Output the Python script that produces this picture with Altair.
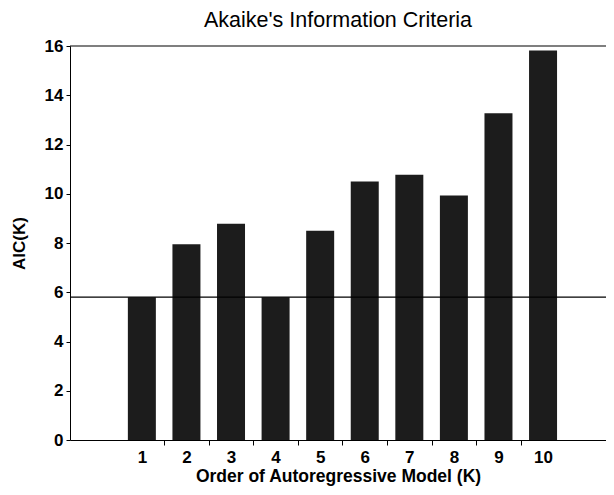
import altair as alt
import pandas as pd

orders = [1, 2, 3, 4, 5, 6, 7, 8, 9, 10]
aic = [5.8, 7.95, 8.78, 5.8, 8.5, 10.5, 10.77, 9.93, 13.27, 15.82]
threshold = [5.8]
top_line = [16]
x_ticks = [1, 1.5, 2, 2.5, 3, 3.5, 4, 4.5, 5, 5.5, 6, 6.5, 7, 7.5, 8, 8.5, 9, 9.5, 10]
y_ticks = [0, 2, 4, 6, 8, 10, 12, 14, 16]

df = pd.DataFrame({"K": orders, "AIC": aic})
FONT = "Liberation Sans"

xscale = alt.Scale(domain=[-0.5, 11.3], nice=False, zero=False)
yscale = alt.Scale(domain=[0, 16], nice=False)

bars = alt.Chart(df).mark_bar(size=28, color="#1c1c1c").encode(
    x=alt.X("K:Q", scale=xscale,
            axis=alt.Axis(values=x_ticks, title="Order of Autoregressive Model (K)",
                          labelExpr="datum.value % 1 === 0 ? format(datum.value, 'd') : ''",
                          tickOpacity={"condition": {"test": "datum.value % 1 === 0", "value": 0}, "value": 1},
                          tickSize=5, labelPadding=4, grid=False, domainColor="black",
                          tickColor="black", labelFontSize=17, labelFontWeight="bold",
                          labelFont=FONT, titleFont=FONT, titleFontSize=17.5,
                          titleFontWeight="bold", titlePadding=2, labelColor="black",
                          titleColor="black", labelFlush=False)),
    y=alt.Y("AIC:Q", scale=yscale,
            axis=alt.Axis(values=y_ticks, title="AIC(K)", tickSize=4, labelPadding=3,
                          grid=False, domainColor="black", tickColor="black",
                          labelFontSize=17, labelFontWeight="bold", labelFont=FONT,
                          titleFont=FONT, titleFontSize=17, titleFontWeight="bold",
                          titlePadding=16, labelColor="black", titleColor="black",
                          format="d")),
)

hline = alt.Chart(pd.DataFrame({"v": threshold})).mark_rule(color="black", strokeWidth=1.2).encode(
    y=alt.Y("v:Q", scale=yscale)
)
topl = alt.Chart(pd.DataFrame({"v": top_line})).mark_rule(color="black", strokeWidth=1.2).encode(
    y=alt.Y("v:Q", scale=yscale)
)

chart = alt.layer(bars, hline, topl).properties(
    width=536, height=394,
    title=alt.TitleParams("Akaike's Information Criteria", font=FONT, fontSize=21.5,
                          fontWeight="normal", color="black", anchor="middle",
                          offset=6),
    autosize=alt.AutoSizeParams(type="none"),
    padding={"left": 62, "top": 38, "right": 0, "bottom": 48},
).configure_view(stroke=None)

chart.save("out.html", embed_options={"renderer": "svg", "actions": False})
